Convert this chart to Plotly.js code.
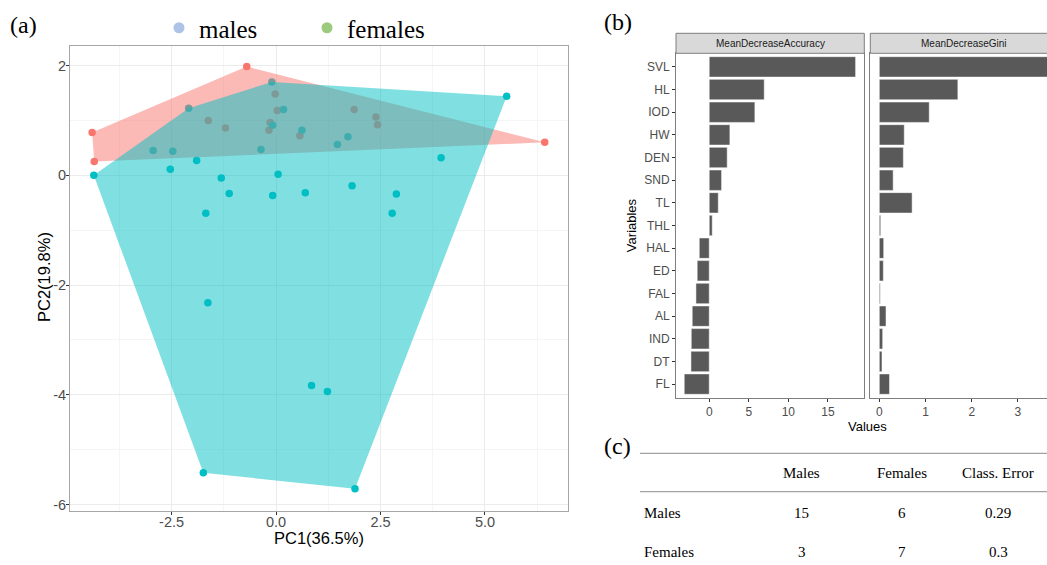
<!DOCTYPE html>
<html><head><meta charset="utf-8">
<script src="https://cdn.plot.ly/plotly-3.0.1.min.js"></script>
<style>html,body{margin:0;padding:0;overflow:hidden;background:#fff}#chart{width:1060px;height:565px}</style>
</head><body><div id="chart"></div>
<script>
// ---------- (a) PCA scores ----------
const redPC1 = [-0.70,-4.40,-4.35,6.43,-0.02,0.03,-1.62,-1.21,-0.14,-0.17,0.57,1.87,2.39,2.43];
const redPC2 = [1.98,0.78,0.25,0.60,1.48,1.18,1.00,0.86,0.96,0.82,0.72,1.20,1.06,0.92];
const cyanPC1 = [-0.10,-2.09,0.18,0.62,-0.08,-2.94,-2.47,-0.36,1.47,1.72,-4.36,-2.53,-1.90,-1.31,-1.12,0.05,-0.08,0.70,-1.68,1.82,5.52,3.95,2.88,2.78,-1.63,0.85,1.23,-1.74,1.89];
const cyanPC2 = [1.70,1.22,1.20,0.82,0.91,0.45,0.44,0.47,0.56,0.70,0.00,0.11,0.27,-0.05,-0.33,0.02,-0.37,-0.32,-0.69,-0.19,1.44,0.32,-0.34,-0.69,-2.32,-3.83,-3.94,-5.42,-5.71];
const legendNames = ['males','females'];
const pcaXTicks = [-2.5,0,2.5,5];
const pcaXTickText = ['-2.5','0.0','2.5','5.0'];
const pcaYTicks = [-6,-4,-2,0,2];
const pcaYTickText = ['-6','-4','-2','0','2'];

// ---------- (b) variable importance ----------
const variables = ['SVL','HL','IOD','HW','DEN','SND','TL','THL','HAL','ED','FAL','AL','IND','DT','FL'];
const meanDecreaseAccuracy = [18.5,6.95,5.77,2.61,2.27,1.56,1.14,0.38,-1.26,-1.52,-1.68,-2.15,-2.27,-2.31,-3.16];
const meanDecreaseGini = [3.75,1.70,1.08,0.54,0.52,0.30,0.71,0.03,0.095,0.087,0.02,0.145,0.073,0.058,0.22];
const facetNames = ['MeanDecreaseAccuracy','MeanDecreaseGini'];

// ---------- (c) confusion table ----------
const tableHeader = ['Males','Females','Class. Error'];
const tableRowLabels = ['Males','Females'];
const tableValues = [['15','6','0.29'],['3','7','0.3']];

const W = 1060, H = 565;
const px = v => v / W;
const py = v => 1 - v / H;

function hull(xs, ys) {
  const pts = xs.map((x, i) => [x, ys[i]]).sort((a, b) => a[0] - b[0] || a[1] - b[1]);
  const cross = (o, a, b) => (a[0]-o[0])*(b[1]-o[1]) - (a[1]-o[1])*(b[0]-o[0]);
  const lower = [], upper = [];
  for (const p of pts) { while (lower.length >= 2 && cross(lower[lower.length-2], lower[lower.length-1], p) <= 0) lower.pop(); lower.push(p); }
  for (let i = pts.length - 1; i >= 0; i--) { const p = pts[i]; while (upper.length >= 2 && cross(upper[upper.length-2], upper[upper.length-1], p) <= 0) upper.pop(); upper.push(p); }
  const h = lower.slice(0, -1).concat(upper.slice(0, -1));
  h.push(h[0]);
  return {x: h.map(p => p[0]), y: h.map(p => p[1])};
}
const redHull = hull(redPC1, redPC2);
const cyanHull = hull(cyanPC1, cyanPC2);

const RED = '#F8766D', CYAN = '#00BFC4';
const traces = [
  {type:'scatter', mode:'markers', x: redPC1, y: redPC2, marker:{color:RED, size:7.5}, showlegend:false, hoverinfo:'skip'},
  {type:'scatter', mode:'markers', x: cyanPC1, y: cyanPC2, marker:{color:CYAN, size:7.5}, showlegend:false, hoverinfo:'skip'},
  {type:'scatter', mode:'lines', x: redHull.x, y: redHull.y, fill:'toself', fillcolor:'rgba(248,118,109,0.5)', line:{width:0}, showlegend:false, hoverinfo:'skip'},
  {type:'scatter', mode:'lines', x: cyanHull.x, y: cyanHull.y, fill:'toself', fillcolor:'rgba(0,191,196,0.5)', line:{width:0}, showlegend:false, hoverinfo:'skip'},
  {type:'scatter', mode:'markers', x:[null], y:[null], name: legendNames[0], marker:{color:'#AEC3E6', size:11}, showlegend:true},
  {type:'scatter', mode:'markers', x:[null], y:[null], name: legendNames[1], marker:{color:'#9CCB80', size:11}, showlegend:true},
  {type:'bar', orientation:'h', x: meanDecreaseAccuracy, y: variables, xaxis:'x2', yaxis:'y2', marker:{color:'#595959', line:{color:'#ffffff', width:0.5}}, showlegend:false, hoverinfo:'skip'},
  {type:'bar', orientation:'h', x: meanDecreaseGini, y: variables, xaxis:'x3', yaxis:'y3', marker:{color:'#595959', line:{color:'#ffffff', width:0.5}}, showlegend:false, hoverinfo:'skip'}
];

const tickFont = {family:'Liberation Sans, Arial, sans-serif', size:14.5, color:'#4D4D4D'};
const smallTick = {family:'Liberation Sans, Arial, sans-serif', size:12, color:'#4D4D4D'};
const serif = 'Liberation Serif, Times New Roman, serif';
const sans = 'Liberation Sans, Arial, sans-serif';

const shapes = [];
const annotations = [];
// facet strips
const stripX = [[676, 864.3], [870.3, 1058.6]];
stripX.forEach((s, i) => {
  shapes.push({type:'rect', xref:'paper', yref:'paper', x0:px(s[0]), x1:px(s[1]), y0:py(53.3), y1:py(33.3), fillcolor:'#D9D9D9', line:{color:'#7F7F7F', width:1}, layer:'above'});
  annotations.push({xref:'paper', yref:'paper', x:px((s[0]+s[1])/2), y:py(43.3), text:facetNames[i], showarrow:false, font:{family:sans, size:10, color:'#1A1A1A'}, xanchor:'center', yanchor:'middle'});
});
annotations.push({xref:'paper', yref:'paper', x:px(867), y:py(426), text:'Values', showarrow:false, font:{family:sans, size:13, color:'#000'}, xanchor:'center', yanchor:'middle'});
// PCA axis titles
annotations.push({xref:'paper', yref:'paper', x:px(318.8), y:py(538), text:'PC1(36.5%)', showarrow:false, font:{family:sans, size:16.5, color:'#000'}, xanchor:'center', yanchor:'middle'});
annotations.push({xref:'paper', yref:'paper', x:px(44), y:py(277), text:'PC2(19.8%)', textangle:-90, showarrow:false, font:{family:sans, size:16.5, color:'#000'}, xanchor:'center', yanchor:'middle'});
// panel labels
[['(a)', 8, 25], ['(b)', 602, 22], ['(c)', 602, 446]].forEach(l => {
  annotations.push({xref:'paper', yref:'paper', x:px(l[1]), y:py(l[2]), text:l[0], showarrow:false, font:{family:serif, size:24, color:'#000'}, xanchor:'left', yanchor:'middle'});
});
// table
shapes.push({type:'line', xref:'paper', yref:'paper', x0:px(640), x1:px(1060), y0:py(453.3), y1:py(453.3), line:{color:'#8C8C8C', width:1}});
shapes.push({type:'line', xref:'paper', yref:'paper', x0:px(640), x1:px(1060), y0:py(491.7), y1:py(491.7), line:{color:'#8C8C8C', width:1}});
const colX = [801.5, 902, 998];
const rowY = [512.7, 551.7];
const tFont = {family:serif, size:15, color:'#000'};
tableHeader.forEach((h, j) => annotations.push({xref:'paper', yref:'paper', x:px(colX[j]), y:py(473.3), text:h, showarrow:false, font:tFont, xanchor:'center', yanchor:'middle'}));
tableRowLabels.forEach((r, i) => {
  annotations.push({xref:'paper', yref:'paper', x:px(641.7), y:py(rowY[i]), text:r, showarrow:false, font:tFont, xanchor:'left', yanchor:'middle'});
  tableValues[i].forEach((v, j) => annotations.push({xref:'paper', yref:'paper', x:px(colX[j]), y:py(rowY[i]), text:v, showarrow:false, font:tFont, xanchor:'center', yanchor:'middle'}));
});

const barYAxis = {type:'category', categoryarray: variables, categoryorder:'array', range:[14.6,-0.6], domain:[py(397.7), py(53.3)], showline:true, mirror:true, linecolor:'#7F7F7F', linewidth:1, showgrid:false, zeroline:false};

const layout = {
  width: W, height: H,
  margin:{l:0, r:0, t:0, b:0},
  paper_bgcolor:'#fff', plot_bgcolor:'#fff',
  bargap: 0.1,
  showlegend: true,
  legend:{orientation:'h', x:px(159), y:py(5), xanchor:'left', yanchor:'top', font:{family:serif, size:25, color:'#000'}, bgcolor:'rgba(0,0,0,0)', itemsizing:'trace', entrywidth:103},
  xaxis:{domain:[px(70), px(567.7)], range:[-4.93, 6.98], tickvals:pcaXTicks, ticktext:pcaXTickText, showgrid:true, gridcolor:'#EBEBEB', gridwidth:1,
    minor:{dtick:1.25, tick0:0, showgrid:true, gridcolor:'#F5F5F5', gridwidth:1, ticks:''},
    zeroline:false, showline:true, mirror:true, linecolor:'#A6A6A6', linewidth:1, ticks:'outside', ticklen:3, tickcolor:'#333', tickfont:tickFont, ticklabelstandoff:-5},
  yaxis:{domain:[py(510.7), py(46)], range:[-6.11, 2.355], tickvals:pcaYTicks, ticktext:pcaYTickText, showgrid:true, gridcolor:'#EBEBEB', gridwidth:1,
    minor:{dtick:1, tick0:0, showgrid:true, gridcolor:'#F5F5F5', gridwidth:1, ticks:''},
    zeroline:false, showline:true, mirror:true, linecolor:'#A6A6A6', linewidth:1, ticks:'outside', ticklen:3, tickcolor:'#333', tickfont:tickFont, ticklabelstandoff:-3},
  xaxis2:{domain:[px(676), px(864.3)], range:[-4.2, 19.6], anchor:'y2', tickvals:[0,5,10,15], showgrid:false, zeroline:false, showline:true, mirror:true, linecolor:'#7F7F7F', linewidth:1, ticks:'outside', ticklen:3, tickcolor:'#333', tickfont:smallTick},
  yaxis2:Object.assign({}, barYAxis, {anchor:'x2', ticks:'outside', ticklen:3, tickcolor:'#333', tickfont:smallTick,
    title:{text:'Variables', font:{family:sans, size:13, color:'#000'}, standoff:4}}),
  xaxis3:{domain:[px(870.3), px(1058.6)], range:[-0.195, 3.88], anchor:'y3', tickvals:[0,1,2,3], showgrid:false, zeroline:false, showline:true, mirror:true, linecolor:'#7F7F7F', linewidth:1, ticks:'outside', ticklen:3, tickcolor:'#333', tickfont:smallTick},
  yaxis3:Object.assign({}, barYAxis, {anchor:'x3', showticklabels:false, ticks:''}),
  shapes: shapes,
  annotations: annotations
};

Plotly.newPlot('chart', traces, layout, {staticPlot:true, displayModeBar:false});
</script>
</body></html>
